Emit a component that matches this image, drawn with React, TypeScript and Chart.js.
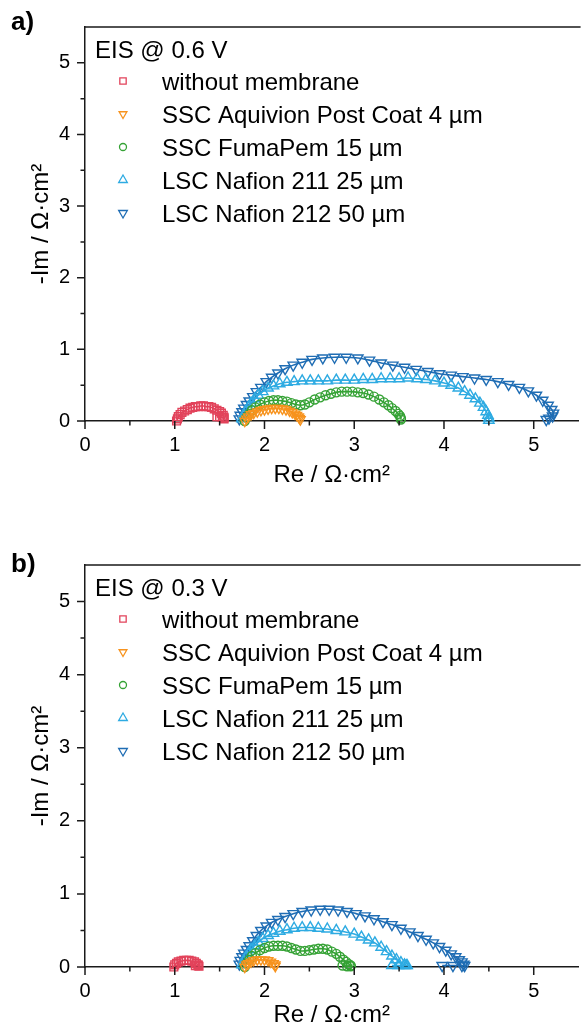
import React, { useEffect, useRef } from 'react';
import { Chart, registerables } from 'chart.js';

Chart.register(...registerables);

const FONT = '"Liberation Sans", Arial, Helvetica, sans-serif';

// ---------- series meta ----------
const seriesLabels = [
  'without membrane',
  'SSC Aquivion Post Coat 4 µm',
  'SSC FumaPem 15 µm',
  'LSC Nafion 211 25 µm',
  'LSC Nafion 212 50 µm',
];
const seriesColors = ['#e2435b', '#f7931e', '#35a235', '#2eabe2', '#1f6db4'];
const seriesPointStyles = ['rect', 'triangle', 'circle', 'triangle', 'triangle'];
const seriesRotations = [0, 180, 0, 0, 180];
const seriesRadii = [5.5, 5.5, 4.5, 6, 6];

// ---------- ticks ----------
const xTickValues = [0, 1, 2, 3, 4, 5];
const xTickLabels = ['0', '1', '2', '3', '4', '5'];
const yTickValues = [0, 1, 2, 3, 4, 5];
const yTickLabels = ['0', '1', '2', '3', '4', '5'];

const panelTitles = ['EIS @ 0.6 V', 'EIS @ 0.3 V'];
const panelLetters = ['a)', 'b)'];
const xAxisTitle = 'Re / Ω·cm²';
const yAxisTitle = '-Im / Ω·cm²';

// ---------- panel a (0.6 V) ----------
const redA_x = [1.02, 1.03, 1.04, 1.06, 1.08, 1.11, 1.14, 1.17, 1.20, 1.23, 1.26, 1.29, 1.32, 1.35, 1.38, 1.41, 1.44, 1.47, 1.50, 1.52, 1.54, 1.55, 1.55, 1.53, 1.50, 1.47];
const redA_y = [0.00, 0.03, 0.06, 0.09, 0.12, 0.14, 0.16, 0.18, 0.19, 0.20, 0.20, 0.21, 0.21, 0.20, 0.20, 0.19, 0.17, 0.15, 0.13, 0.11, 0.08, 0.05, 0.03, 0.05, 0.06, 0.06];

const orangeA_x = [1.78, 1.80, 1.82, 1.85, 1.88, 1.92, 1.96, 2.00, 2.04, 2.08, 2.12, 2.16, 2.20, 2.24, 2.28, 2.31, 2.34, 2.36, 2.38, 2.39, 2.40];
const orangeA_y = [0.00, 0.03, 0.06, 0.09, 0.11, 0.13, 0.15, 0.16, 0.17, 0.18, 0.18, 0.18, 0.17, 0.16, 0.14, 0.12, 0.10, 0.08, 0.06, 0.04, 0.02];

const greenA_x = [1.78, 1.80, 1.83, 1.86, 1.90, 1.95, 2.00, 2.05, 2.10, 2.15, 2.20, 2.25, 2.30, 2.35, 2.40, 2.45, 2.50, 2.56, 2.62, 2.68, 2.74, 2.80, 2.86, 2.92, 2.98, 3.04, 3.10, 3.16, 3.22, 3.28, 3.33, 3.38, 3.42, 3.46, 3.49, 3.51, 3.52, 3.52];
const greenA_y = [0.00, 0.05, 0.10, 0.15, 0.19, 0.23, 0.26, 0.28, 0.29, 0.29, 0.28, 0.27, 0.25, 0.23, 0.22, 0.23, 0.26, 0.30, 0.33, 0.36, 0.38, 0.40, 0.41, 0.41, 0.41, 0.40, 0.39, 0.37, 0.34, 0.30, 0.26, 0.22, 0.18, 0.14, 0.10, 0.07, 0.04, 0.02];

const lightBlueA_x = [1.75, 1.77, 1.79, 1.82, 1.85, 1.89, 1.93, 1.98, 2.04, 2.10, 2.17, 2.25, 2.33, 2.42, 2.51, 2.60, 2.70, 2.80, 2.90, 3.00, 3.10, 3.20, 3.30, 3.40, 3.50, 3.60, 3.70, 3.80, 3.90, 4.00, 4.08, 4.16, 4.23, 4.29, 4.35, 4.40, 4.44, 4.47, 4.49, 4.50, 4.50];
const lightBlueA_y = [0.03, 0.08, 0.13, 0.19, 0.25, 0.31, 0.36, 0.41, 0.46, 0.49, 0.52, 0.54, 0.55, 0.56, 0.56, 0.56, 0.56, 0.57, 0.57, 0.57, 0.58, 0.58, 0.59, 0.59, 0.59, 0.60, 0.59, 0.58, 0.56, 0.53, 0.50, 0.46, 0.41, 0.36, 0.31, 0.25, 0.19, 0.13, 0.08, 0.04, 0.01];

const darkBlueA_x = [1.72, 1.73, 1.75, 1.77, 1.80, 1.83, 1.87, 1.91, 1.96, 2.02, 2.08, 2.15, 2.23, 2.32, 2.42, 2.53, 2.65, 2.78, 2.91, 3.04, 3.17, 3.30, 3.43, 3.56, 3.69, 3.82, 3.95, 4.08, 4.21, 4.34, 4.47, 4.60, 4.72, 4.84, 4.94, 5.03, 5.10, 5.16, 5.20, 5.22, 5.21, 5.17, 5.14];
const darkBlueA_y = [0.03, 0.08, 0.13, 0.18, 0.23, 0.28, 0.34, 0.41, 0.47, 0.55, 0.61, 0.67, 0.73, 0.78, 0.82, 0.86, 0.88, 0.89, 0.89, 0.88, 0.85, 0.81, 0.78, 0.75, 0.72, 0.69, 0.66, 0.64, 0.62, 0.60, 0.58, 0.55, 0.51, 0.47, 0.42, 0.36, 0.29, 0.22, 0.16, 0.11, 0.07, 0.04, 0.02];

// ---------- panel b (0.3 V) ----------
const redB_x = [0.99, 1.00, 1.02, 1.04, 1.07, 1.10, 1.13, 1.16, 1.19, 1.22, 1.24, 1.26, 1.27, 1.26, 1.23];
const redB_y = [0.00, 0.03, 0.05, 0.07, 0.08, 0.09, 0.09, 0.09, 0.08, 0.07, 0.05, 0.03, 0.01, 0.02, 0.02];

const orangeB_x = [1.78, 1.80, 1.82, 1.85, 1.88, 1.92, 1.96, 2.00, 2.04, 2.07, 2.10, 2.12, 2.12];
const orangeB_y = [0.00, 0.03, 0.05, 0.07, 0.09, 0.10, 0.10, 0.10, 0.09, 0.07, 0.05, 0.03, 0.01];

const greenB_x = [1.78, 1.80, 1.83, 1.86, 1.90, 1.95, 2.00, 2.05, 2.10, 2.15, 2.20, 2.25, 2.30, 2.35, 2.40, 2.45, 2.50, 2.55, 2.60, 2.65, 2.70, 2.75, 2.80, 2.84, 2.88, 2.91, 2.94, 2.96, 2.96, 2.92, 2.87];
const greenB_y = [0.00, 0.05, 0.10, 0.15, 0.19, 0.23, 0.26, 0.28, 0.29, 0.29, 0.29, 0.28, 0.26, 0.24, 0.22, 0.22, 0.23, 0.24, 0.25, 0.25, 0.24, 0.21, 0.18, 0.14, 0.10, 0.07, 0.04, 0.02, 0.01, 0.01, 0.02];

const lightBlueB_x = [1.75, 1.77, 1.79, 1.82, 1.85, 1.89, 1.93, 1.98, 2.04, 2.10, 2.17, 2.25, 2.33, 2.42, 2.51, 2.60, 2.70, 2.80, 2.90, 3.00, 3.08, 3.16, 3.23, 3.30, 3.36, 3.42, 3.47, 3.52, 3.56, 3.58, 3.59, 3.56, 3.49, 3.42];
const lightBlueB_y = [0.03, 0.08, 0.13, 0.18, 0.24, 0.29, 0.34, 0.39, 0.43, 0.46, 0.49, 0.51, 0.53, 0.54, 0.54, 0.53, 0.52, 0.50, 0.48, 0.45, 0.41, 0.37, 0.33, 0.27, 0.21, 0.15, 0.10, 0.06, 0.03, 0.02, 0.02, 0.02, 0.02, 0.02];

const darkBlueB_x = [1.72, 1.73, 1.75, 1.77, 1.80, 1.83, 1.87, 1.91, 1.96, 2.02, 2.08, 2.15, 2.23, 2.32, 2.42, 2.52, 2.62, 2.72, 2.82, 2.92, 3.02, 3.12, 3.22, 3.32, 3.42, 3.52, 3.62, 3.71, 3.80, 3.88, 3.95, 4.02, 4.08, 4.13, 4.17, 4.20, 4.22, 4.23, 4.20, 4.10, 3.98];
const darkBlueB_y = [0.04, 0.09, 0.14, 0.19, 0.24, 0.29, 0.36, 0.43, 0.50, 0.56, 0.61, 0.65, 0.69, 0.73, 0.76, 0.78, 0.79, 0.79, 0.78, 0.76, 0.73, 0.70, 0.66, 0.62, 0.58, 0.53, 0.48, 0.43, 0.38, 0.33, 0.28, 0.23, 0.18, 0.14, 0.10, 0.07, 0.04, 0.02, 0.02, 0.02, 0.02];

const panelASeries = [
  [redA_x, redA_y],
  [orangeA_x, orangeA_y],
  [greenA_x, greenA_y],
  [lightBlueA_x, lightBlueA_y],
  [darkBlueA_x, darkBlueA_y],
];
const panelBSeries = [
  [redB_x, redB_y],
  [orangeB_x, orangeB_y],
  [greenB_x, greenB_y],
  [lightBlueB_x, lightBlueB_y],
  [darkBlueB_x, darkBlueB_y],
];

function drawMarker(ctx: CanvasRenderingContext2D, style: string, rotationDeg: number, x: number, y: number, r: number, color: string) {
  ctx.save();
  ctx.strokeStyle = color;
  ctx.lineWidth = 1.3;
  ctx.beginPath();
  if (style === 'rect') {
    const s = Math.SQRT1_2 * r;
    ctx.rect(x - s, y - s, 2 * s, 2 * s);
  } else if (style === 'circle') {
    ctx.arc(x, y, r, 0, Math.PI * 2);
  } else {
    let rad = (rotationDeg * Math.PI) / 180;
    ctx.moveTo(x + Math.sin(rad) * r, y - Math.cos(rad) * r);
    rad += (2 * Math.PI) / 3;
    ctx.lineTo(x + Math.sin(rad) * r, y - Math.cos(rad) * r);
    rad += (2 * Math.PI) / 3;
    ctx.lineTo(x + Math.sin(rad) * r, y - Math.cos(rad) * r);
    ctx.closePath();
  }
  ctx.stroke();
  ctx.restore();
}

const decorPlugin = {
  id: 'decor',
  afterDraw(chart: any, _args: any, opts: any) {
    const { ctx, chartArea } = chart;
    const { left, top, right, bottom } = chartArea;
    const xs = chart.scales.x;
    const ys = chart.scales.y;
    ctx.save();
    ctx.strokeStyle = '#1a1a1a';
    ctx.lineWidth = 1.5;
    ctx.beginPath();
    ctx.moveTo(left - 0.75, top);
    ctx.lineTo(right + 2, top);
    for (let i = 0; i <= 10; i++) {
      const v = i * 0.5;
      const len = i % 2 === 0 ? 8 : 4.5;
      const px = xs.getPixelForValue(v);
      ctx.moveTo(px, bottom);
      ctx.lineTo(px, bottom + len);
      const py = ys.getPixelForValue(v);
      ctx.moveTo(left, py);
      ctx.lineTo(left - len, py);
    }
    ctx.stroke();

    // legend
    ctx.fillStyle = '#000';
    ctx.font = `24px ${FONT}`;
    ctx.textAlign = 'left';
    ctx.textBaseline = 'alphabetic';
    ctx.fillText(opts.title, left + 10, top + 31);
    seriesLabels.forEach((lab, i) => {
      const by = top + 63 + 33 * i;
      drawMarker(ctx, seriesPointStyles[i], seriesRotations[i], left + 38, by - 9, seriesRadii[i] - 1, seriesColors[i]);
      ctx.fillStyle = '#000';
      ctx.fillText(lab, left + 77, by);
    });

    // panel letter
    ctx.font = `bold 26px ${FONT}`;
    ctx.fillText(opts.letter, 11, opts.letterY);
    ctx.restore();
  },
};

function buildConfig(series: number[][][], title: string, letter: string, letterY: number, padTop: number, xAxisHeight: number, xTitlePad: number) {
  const datasets = series.map(([xs, ys], i) => ({
    label: seriesLabels[i],
    data: xs.map((x, k) => ({ x, y: ys[k] })),
    showLine: true,
    tension: 0.2,
    borderColor: seriesColors[i],
    borderWidth: 1.6,
    backgroundColor: 'rgba(0,0,0,0)',
    pointStyle: seriesPointStyles[i],
    rotation: seriesRotations[i],
    pointRadius: seriesRadii[i],
    pointBorderWidth: 1.4,
    pointBorderColor: seriesColors[i],
    pointBackgroundColor: 'rgba(0,0,0,0)',
    clip: false as any,
  }));
  return {
    type: 'scatter' as const,
    data: { datasets },
    options: {
      responsive: false,
      animation: false as const,
      devicePixelRatio: 1,
      layout: { padding: { top: padTop, right: 0, left: 0, bottom: 0 } },
      plugins: {
        legend: { display: false },
        tooltip: { enabled: false },
        decor: { title, letter, letterY },
      },
      scales: {
        x: {
          type: 'linear' as const,
          position: 'bottom' as const,
          min: 0,
          max: 5.5,
          afterBuildTicks: (s: any) => {
            s.ticks = xTickValues.map((v) => ({ value: v }));
          },
          afterFit: (s: any) => {
            s.height = xAxisHeight;
          },
          grid: { display: true, drawOnChartArea: false, drawTicks: false },
          border: { display: true, color: '#1a1a1a', width: 1.5 },
          ticks: {
            color: '#000',
            font: { family: FONT, size: 20 },
            padding: 12,
            maxRotation: 0,
            autoSkip: false,
            callback: (v: any) => {
              const k = xTickValues.indexOf(Number(v));
              return k >= 0 ? xTickLabels[k] : '';
            },
          },
          title: {
            display: true,
            text: xAxisTitle,
            color: '#000',
            font: { family: FONT, size: 24 },
            padding: { top: 0, bottom: xTitlePad },
          },
        },
        y: {
          type: 'linear' as const,
          position: 'left' as const,
          min: 0,
          max: 5.5,
          afterBuildTicks: (s: any) => {
            s.ticks = yTickValues.map((v) => ({ value: v }));
          },
          afterFit: (s: any) => {
            s.width = 85;
          },
          grid: { display: true, drawOnChartArea: false, drawTicks: false },
          border: { display: true, color: '#1a1a1a', width: 1.5 },
          ticks: {
            color: '#000',
            font: { family: FONT, size: 20 },
            padding: 15,
            autoSkip: false,
            callback: (v: any) => {
              const k = yTickValues.indexOf(Number(v));
              return k >= 0 ? yTickLabels[k] : '';
            },
          },
          title: {
            display: true,
            text: yAxisTitle,
            color: '#000',
            font: { family: FONT, size: 24 },
            padding: { top: 27, bottom: 0 },
          },
        },
      },
    },
    plugins: [decorPlugin],
  };
}

export default function App() {
  const refA = useRef<HTMLCanvasElement | null>(null);
  const refB = useRef<HTMLCanvasElement | null>(null);

  useEffect(() => {
    const a = new Chart(refA.current as HTMLCanvasElement, buildConfig(panelASeries, panelTitles[0], panelLetters[0], 30, 19, 79, 10.6) as any);
    const b = new Chart(refB.current as HTMLCanvasElement, buildConfig(panelBSeries, panelTitles[1], panelLetters[1], 72, 65, 73, 10.1) as any);
    return () => {
      a.destroy();
      b.destroy();
    };
  }, []);

  return (
    <div style={{ position: 'fixed', left: 0, top: 0, width: 585, height: 1027, overflow: 'hidden', background: '#fff' }}>
      <canvas ref={refA} width={586} height={500} style={{ position: 'absolute', left: 0, top: 0, width: 586, height: 500 }} />
      <canvas ref={refB} width={586} height={540} style={{ position: 'absolute', left: 0, top: 500, width: 586, height: 540 }} />
    </div>
  );
}
